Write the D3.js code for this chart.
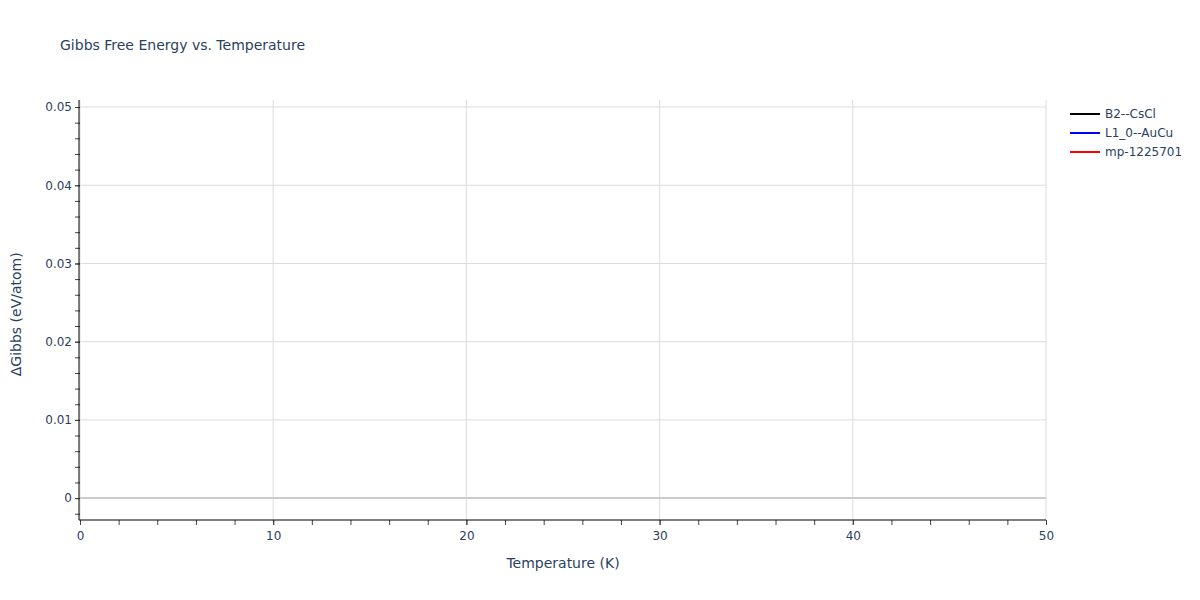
<!DOCTYPE html>
<html>
<head>
<meta charset="utf-8">
<script src="https://cdn.jsdelivr.net/npm/d3@7"></script>
<style>
    body { margin: 0; background: #fff; }
    svg text { font-family: Verdana, "DejaVu Sans", sans-serif; fill: #2a3f5f; }
</style>
</head>
<body>
<div id="chart"><svg></svg></div>
<script>
// series names and colours, as shown in the legend
var seriesNames = ["B2--CsCl", "L1_0--AuCu", "mp-1225701"];
var seriesColors = ["black", "blue", "red"];

// the traces have no points inside the visible range
var temperatures = [];
var gibbsB2 = [];
var gibbsL10 = [];
var gibbsMp = [];

var xTicks = [0, 10, 20, 30, 40, 50];
var yTicks = [0, 0.01, 0.02, 0.03, 0.04, 0.05];

var owidth = 1200, oheight = 600;
var margin = { top: 100, right: 154, bottom: 80, left: 80 },
    width = owidth - margin.left - margin.right,
    height = oheight - margin.top - margin.bottom;

var root = d3.select("#chart").select("svg")
    .attr("width", owidth)
    .attr("height", oheight);

var svg = root.append("g")
    .attr("transform", "translate(" + margin.left + "," + margin.top + ")");

var xScale = d3.scaleLinear().domain([0, 50]).range([0, width]);
var yScale = d3.scaleLinear().domain([-0.0028, 0.0509]).range([height, 0]);

// gridlines
svg.append("g").selectAll("line")
    .data(xTicks)
    .enter().append("line")
    .attr("x1", function (d) { return xScale(d); })
    .attr("x2", function (d) { return xScale(d); })
    .attr("y1", 0).attr("y2", height)
    .attr("stroke", "#dcdcdc").attr("stroke-width", 1);

svg.append("g").selectAll("line")
    .data(yTicks)
    .enter().append("line")
    .attr("x1", 0).attr("x2", width)
    .attr("y1", function (d) { return yScale(d); })
    .attr("y2", function (d) { return yScale(d); })
    .attr("stroke", function (d) { return d === 0 ? "#cccccc" : "#dcdcdc"; })
    .attr("stroke-width", function (d) { return d === 0 ? 2 : 1; });

// lines
var seriesValues = [gibbsB2, gibbsL10, gibbsMp];
var line = d3.line()
    .x(function (d, i) { return xScale(temperatures[i]); })
    .y(function (d) { return yScale(d); });

svg.append("g").selectAll("path")
    .data(seriesValues)
    .enter().append("path")
    .attr("fill", "none")
    .attr("stroke", function (d, i) { return seriesColors[i]; })
    .attr("stroke-width", 2)
    .attr("d", function (d) { return d.length ? line(d) : null; });

// minor ticks
svg.append("g")
    .attr("transform", "translate(0," + height + ")")
    .call(d3.axisBottom(xScale).tickValues(d3.range(0, 51, 2)).tickSize(5).tickFormat(""))
    .call(function (g) { g.select(".domain").remove(); });
svg.append("g")
    .call(d3.axisLeft(yScale).tickValues(d3.range(-0.002, 0.051, 0.002)).tickSize(5).tickFormat(""))
    .call(function (g) { g.select(".domain").remove(); });

// major axes
var xAxis = svg.append("g")
    .attr("class", "x axis")
    .attr("transform", "translate(0," + height + ")")
    .call(d3.axisBottom(xScale).tickValues(xTicks).tickSize(5).tickSizeOuter(0).tickPadding(6));
var yAxis = svg.append("g")
    .attr("class", "y axis")
    .call(d3.axisLeft(yScale).tickValues(yTicks).tickSize(5).tickSizeOuter(0).tickPadding(3)
        .tickFormat(function (d) { return d === 0 ? "0" : d3.format(".2f")(d); }));

root.selectAll(".axis text").style("font-size", "12px").style("font-family", null);
root.selectAll(".tick line").attr("stroke", "#444");
root.selectAll(".axis .domain").attr("d", null);
xAxis.append("line").attr("x1", -1).attr("x2", width).attr("y1", 0).attr("y2", 0)
    .attr("stroke", "black");
yAxis.append("line").attr("x1", -1).attr("x2", -1).attr("y1", 0).attr("y2", height)
    .attr("stroke", "black");

// titles
root.append("text")
    .attr("x", 60).attr("y", 50)
    .style("font-size", "14px")
    .text("Gibbs Free Energy vs. Temperature");

root.append("text")
    .attr("x", margin.left + width / 2).attr("y", 568)
    .attr("text-anchor", "middle")
    .style("font-size", "14px")
    .text("Temperature (K)");

root.append("text")
    .attr("transform", "translate(21," + (margin.top + yScale(0.0235)) + ") rotate(-90)")
    .attr("text-anchor", "middle")
    .style("font-size", "14px")
    .text("ΔGibbs (eV/atom)");

// legend
var legend = root.append("g")
    .attr("transform", "translate(1070,114)");
var item = legend.selectAll("g")
    .data(seriesNames)
    .enter().append("g")
    .attr("transform", function (d, i) { return "translate(0," + (i * 19) + ")"; });
item.append("line")
    .attr("x1", 0).attr("x2", 30).attr("y1", 0).attr("y2", 0)
    .attr("stroke", function (d, i) { return seriesColors[i]; })
    .attr("stroke-width", 2);
item.append("text")
    .attr("x", 35).attr("y", 4)
    .style("font-size", "12px")
    .text(function (d) { return d; });
</script>
</body>
</html>
